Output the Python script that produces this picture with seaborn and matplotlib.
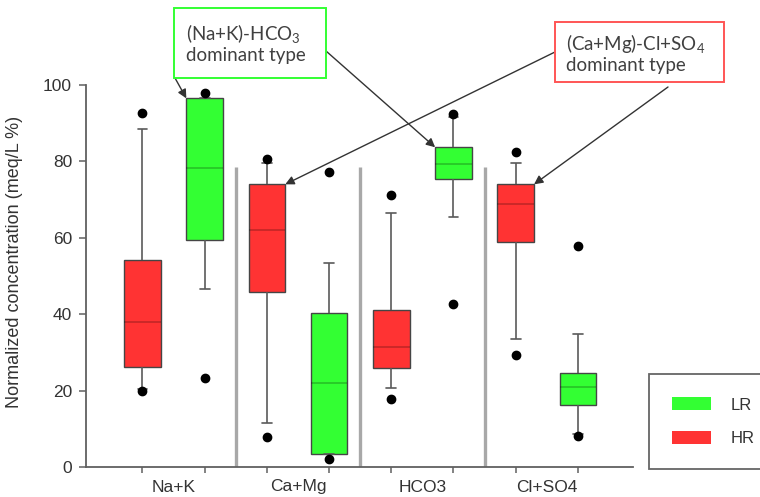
import numpy as np
import pandas as pd
import matplotlib
matplotlib.use("Agg")
import matplotlib.pyplot as plt
from matplotlib.patches import Rectangle, Patch
import seaborn as sns

# ion groups and the two sample classes
ions = ["Na+K", "Ca+Mg", "HCO3", "Cl+SO4"]
groups = ["HR", "LR"]

# sample values (normalized meq/L %)
nak_hr = [19.9, 20.3, 26.2, 32.0, 38.0, 46.0, 54.3, 88.6, 92.6]
nak_lr = [23.4, 46.7, 59.4, 69.0, 78.2, 87.0, 96.5, 96.5, 98.0]
camg_hr = [7.9, 11.4, 45.9, 54.0, 62.0, 68.0, 74.0, 79.5, 80.5]
camg_lr = [2.2, 3.5, 3.5, 13.0, 22.0, 31.0, 40.4, 53.3, 77.1]
hco3_hr = [17.9, 20.7, 26.0, 29.0, 31.4, 36.0, 41.2, 66.4, 71.2]
hco3_lr = [42.8, 65.5, 75.5, 77.5, 79.2, 81.5, 83.7, 91.5, 92.4]
clso4_hr = [29.3, 33.6, 58.8, 64.0, 68.8, 71.5, 74.0, 79.5, 82.4]
clso4_lr = [8.1, 8.6, 16.3, 18.5, 21.0, 23.0, 24.5, 34.7, 57.8]

y_ticks = [0, 20, 40, 60, 80, 100]

colors = {"HR": "#ff3333", "LR": "#33ff33"}

series = {
    ("Na+K", "HR"): nak_hr, ("Na+K", "LR"): nak_lr,
    ("Ca+Mg", "HR"): camg_hr, ("Ca+Mg", "LR"): camg_lr,
    ("HCO3", "HR"): hco3_hr, ("HCO3", "LR"): hco3_lr,
    ("Cl+SO4", "HR"): clso4_hr, ("Cl+SO4", "LR"): clso4_lr,
}
rows = []
for (ion, grp), vals in series.items():
    for v in vals:
        rows.append({"ion": ion, "group": grp, "value": v})
df = pd.DataFrame(rows)

sns.set_theme(style="ticks")
plt.rcParams["font.family"] = ["Liberation Sans", "DejaVu Sans"]
plt.rcParams["mathtext.fontset"] = "custom"
plt.rcParams["mathtext.rm"] = "Lato"
plt.rcParams["mathtext.it"] = "Lato:italic"

W, H = 760, 497
fig = plt.figure(figsize=(7.6, 4.97), dpi=100)
ax = fig.add_axes([86 / W, 1 - 467 / H, (633 - 86) / W, (467 - 85) / H])

GAP = 0.41
sns.boxplot(
    data=df, x="ion", y="value", hue="group", order=ions, hue_order=groups,
    palette=colors, saturation=1, width=1.0, gap=GAP, whis=(10, 90),
    linecolor="#454545", linewidth=1.0, legend=False, ax=ax,
    flierprops=dict(marker="o", markerfacecolor="black", markeredgecolor="black",
                    markersize=6),
    medianprops=dict(color=(0, 0, 0, 0.22), linewidth=1.3),
    whiskerprops=dict(color="#5a5a5a", linewidth=1.2),
    capprops=dict(color="#5a5a5a", linewidth=1.2),
)

# short caps like the original
for c in ax.containers:
    for cap in getattr(c, "caps", []):
        xd = cap.get_xdata()
        m = np.mean(xd)
        cap.set_xdata([m - 0.04, m + 0.04])

# gray separators between ion groups
centers = np.arange(len(ions))
ax.vlines(centers[:-1] + 0.5, 0, 78.5, color="#a8a8a8", lw=2.4, zorder=0.5)

ax.set_xlim(-0.704, 3.693)
ax.set_ylim(0, 100)
ax.set_yticks(y_ticks)
ax.set_yticklabels([str(t) for t in y_ticks], fontsize=12.5, color="#333333")
ax.set_xticks(centers)
ax.set_xticklabels(ions, fontsize=12.5, color="#333333")
ax.tick_params(axis="x", which="major", length=0, pad=9)
box_pos = np.sort(np.concatenate([centers - 0.25, centers + 0.25]))
ax.set_xticks(box_pos, minor=True)
ax.tick_params(axis="x", which="minor", length=4, width=1.1, color="#606060")
ax.tick_params(axis="y", length=5, width=1.1, color="#606060", pad=5)
ax.set_xlabel("")
ax.set_ylabel("Normalized concentration (meq/L %)", fontsize=13, color="#333333")
ax.yaxis.set_label_coords(-0.115, 0.537)
for s in ["left", "bottom"]:
    ax.spines[s].set_color("#606060")
    ax.spines[s].set_linewidth(1.3)
sns.despine(ax=ax)

# annotation boxes
def fig_xy(px, py):
    return (px / W, 1 - py / H)

fig.add_artist(Rectangle(fig_xy(174, 78), (326 - 174) / W, 70 / H,
                         transform=fig.transFigure, facecolor="white",
                         edgecolor="#33ff33", lw=1.4, zorder=5))
fig.text(*fig_xy(186, 43), "(Na+K)-HCO$_\\mathrm{3}$\ndominant type",
         ha="left", va="center", fontsize=13.5, family="Lato",
         color="#404040", linespacing=1.2, zorder=6)
fig.add_artist(Rectangle(fig_xy(555, 82), (724 - 555) / W, 60 / H,
                         transform=fig.transFigure, facecolor="white",
                         edgecolor="#ff5555", lw=1.4, zorder=5))
fig.text(*fig_xy(566, 53), "(Ca+Mg)-Cl+SO$_\\mathrm{4}$\ndominant type",
         ha="left", va="center", fontsize=13.5, family="Lato",
         color="#404040", linespacing=1.2, zorder=6)

half = 0.5 * (1 - GAP) / 2
arrow_kw = dict(arrowstyle="-|>", color="#333333", lw=1.0, mutation_scale=13,
                shrinkA=0, shrinkB=0)
targets = [
    ((0 + 0.25 - half, np.percentile(nak_lr, 75)), fig_xy(175, 78)),
    ((2 + 0.25 - half, np.percentile(hco3_lr, 75)), fig_xy(326, 51)),
    ((1 - 0.25 + half, np.percentile(camg_hr, 75)), fig_xy(555, 52)),
    ((3 - 0.25 + half, np.percentile(clso4_hr, 75)), fig_xy(668, 87)),
]
for xy, xytext in targets:
    ax.annotate("", xy=xy, xycoords="data", xytext=xytext,
                textcoords="figure fraction", arrowprops=arrow_kw,
                annotation_clip=False, zorder=4)

# legend
handles = [Patch(facecolor=colors["LR"], edgecolor="none", label="LR"),
           Patch(facecolor=colors["HR"], edgecolor="none", label="HR")]
leg = fig.legend(handles=handles, loc="upper left", bbox_to_anchor=fig_xy(649, 374),
                 frameon=True, fancybox=False, borderpad=1.4, borderaxespad=0,
                 handlelength=2.3, handleheight=0.8, handletextpad=1.2,
                 labelspacing=1.1, fontsize=12)
leg.get_frame().set_edgecolor("#404040")
leg.get_frame().set_linewidth(1.3)
for t in leg.get_texts():
    t.set_color("#333333")

fig.savefig("out.png", dpi=100)
